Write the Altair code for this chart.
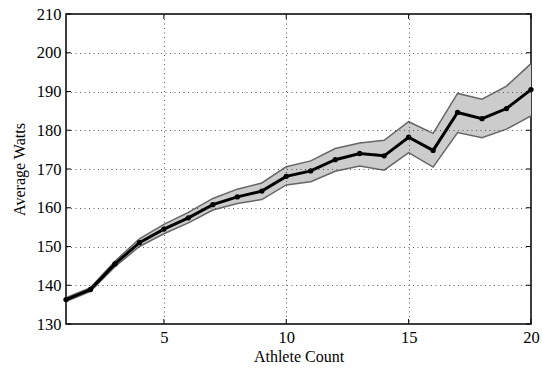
import altair as alt
import pandas as pd

athletes = list(range(1, 21))
mean_watts = [136.3, 138.9, 145.5, 151.0, 154.5, 157.4, 160.8, 162.8, 164.3, 168.1,
              169.5, 172.4, 174.0, 173.4, 178.2, 174.8, 184.6, 183.0, 185.6, 190.5]
upper_watts = [136.8, 139.4, 146.2, 152.0, 155.7, 158.8, 162.4, 164.8, 166.4, 170.6,
               172.1, 175.3, 176.7, 177.4, 182.2, 179.2, 189.5, 188.0, 191.4, 197.2]
lower_watts = [135.8, 138.4, 144.8, 150.0, 153.3, 156.1, 159.4, 161.1, 162.1, 165.9,
               166.7, 169.4, 170.8, 169.7, 174.2, 170.5, 179.4, 178.1, 180.3, 183.7]
x_ticks = [5, 10, 15, 20]
y_ticks = [130, 140, 150, 160, 170, 180, 190, 200, 210]

df = pd.DataFrame({"n": athletes, "mean": mean_watts, "hi": upper_watts, "lo": lower_watts})

FONT = "Liberation Serif"
W, H = 465, 310

xs = alt.Scale(domain=[1, 20], nice=False, zero=False)
ys = alt.Scale(domain=[130, 210], nice=False, zero=False)

common = dict(grid=True, gridColor="#333", gridDash=[1, 3.5], gridWidth=0.8,
              ticks=False, domain=False, labelFont=FONT, labelFontSize=16.5,
              labelColor="black", labelPadding=5, labelOverlap=False, labelFlush=False,
              titleFont=FONT, titleFontSize=16, titleFontWeight="normal",
              titleColor="black", zindex=1)
x_axis = alt.Axis(values=x_ticks, title="Athlete Count", titlePadding=3, **common)
y_axis = alt.Axis(values=y_ticks, title="Average Watts", titlePadding=9, **common)


def X(field):
    return alt.X(field, scale=xs, axis=x_axis)


def Y(field):
    return alt.Y(field, scale=ys, axis=y_axis)


base = alt.Chart(df)

band = base.mark_area(color="#cccccc", opacity=1).encode(
    x=X("n:Q"), y=Y("lo:Q"), y2="hi:Q")
hi_line = base.mark_line(color="#666666", strokeWidth=1.5).encode(x=X("n:Q"), y=Y("hi:Q"))
lo_line = base.mark_line(color="#666666", strokeWidth=1.5).encode(x=X("n:Q"), y=Y("lo:Q"))
mean_line = base.mark_line(color="black", strokeWidth=3).encode(x=X("n:Q"), y=Y("mean:Q"))
pts = base.mark_circle(color="black", size=28, opacity=1).encode(x=X("n:Q"), y=Y("mean:Q"))

xt = pd.DataFrame({"t": x_ticks})
yt = pd.DataFrame({"t": y_ticks})
xtick_b = alt.Chart(xt).mark_rule(color="black", strokeWidth=1).encode(
    x=X("t:Q"), y=alt.value(H), y2=alt.value(H - 5))
xtick_t = alt.Chart(xt).mark_rule(color="black", strokeWidth=1).encode(
    x=X("t:Q"), y=alt.value(0), y2=alt.value(5))
ytick_l = alt.Chart(yt).mark_rule(color="black", strokeWidth=1).encode(
    y=Y("t:Q"), x=alt.value(0), x2=alt.value(5))
ytick_r = alt.Chart(yt).mark_rule(color="black", strokeWidth=1).encode(
    y=Y("t:Q"), x=alt.value(W), x2=alt.value(W - 5))

chart = alt.layer(band, hi_line, lo_line, mean_line, pts,
                  xtick_b, xtick_t, ytick_l, ytick_r).properties(
    width=W, height=H,
    background="white",
    autosize=alt.AutoSizeParams(type="none"),
    padding={"left": 66, "top": 14, "right": 11, "bottom": 46},
).configure_view(stroke="black", strokeWidth=1.5).configure_axis(
    labelFont=FONT, titleFont=FONT)

chart.save("out.html", embed_options={"renderer": "svg", "actions": False})
